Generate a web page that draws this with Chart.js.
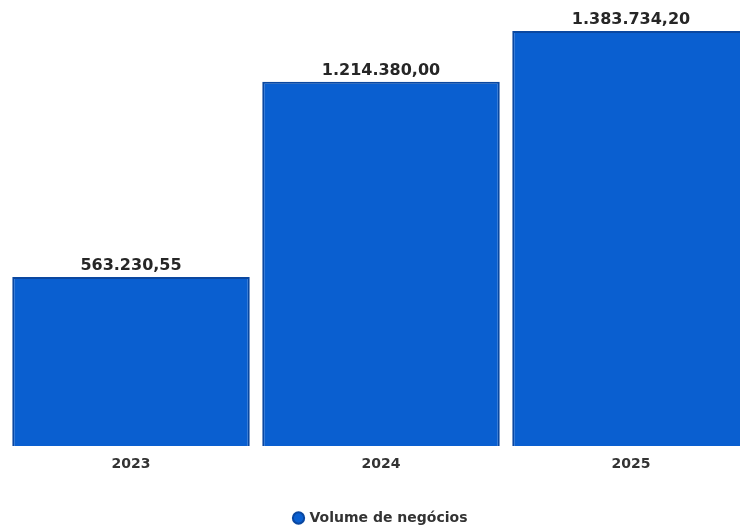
<!DOCTYPE html>
<html>
<head>
<meta charset="utf-8">
<script src="https://cdn.jsdelivr.net/npm/chart.js@4.4.1/dist/chart.umd.min.js"></script>
<style>
  html, body { margin: 0; padding: 0; background: #fff; overflow: hidden; }
  #wrap { width: 740px; height: 530px; overflow: hidden; position: relative; }
  #box { width: 762px; height: 535px; position: absolute; left: 0; top: 0; }
</style>
</head>
<body>
<div id="wrap"><div id="box"><canvas id="chart"></canvas></div></div>
<script>
const years = ['2023', '2024', '2025'];
const volume = [563230.55, 1214380.00, 1383734.20];
const seriesName = 'Volume de negócios';

// formato pt: 1.234.567,89
const fmt = (v) => {
    const [int, dec] = v.toFixed(2).split('.');
    return int.replace(/\B(?=(\d{3})+(?!\d))/g, '.') + ',' + dec;
};

// rótulos por cima das barras
const valueLabels = {
    id: 'valueLabels',
    afterDatasetsDraw(chart) {
        const { ctx } = chart;
        const meta = chart.getDatasetMeta(0);
        ctx.save();
        ctx.font = 'bold 16px "DejaVu Sans"';
        ctx.fillStyle = '#262626';
        ctx.textAlign = 'center';
        ctx.textBaseline = 'bottom';
        meta.data.forEach((bar, i) => {
            ctx.fillText(fmt(chart.data.datasets[0].data[i]), bar.x, bar.y - 3);
        });
        ctx.restore();
    }
};

new Chart(document.getElementById('chart'), {
    type: 'bar',
    data: {
        labels: years,
        datasets: [{
            label: seriesName,
            data: volume,
            backgroundColor: '#0a5fd0',
            borderColor: '#0a47a0',
            borderWidth: 2,
            barPercentage: 0.95,
            categoryPercentage: 1
        }]
    },
    options: {
        responsive: true,
        maintainAspectRatio: false,
        animation: false,
        layout: { padding: { left: 6, right: 6, top: 0, bottom: 0 } },
        plugins: {
            legend: {
                position: 'bottom',
                labels: {
                    usePointStyle: true,
                    pointStyle: 'circle',
                    boxWidth: 8,
                    boxHeight: 8,
                    padding: 5,
                    color: '#333',
                    font: { family: 'DejaVu Sans', size: 14, weight: 'bold' }
                }
            },
            tooltip: { enabled: false }
        },
        scales: {
            x: {
                grid: { display: false },
                border: { display: false },
                afterFit: (scale) => { scale.height = 60; },
                ticks: { color: '#333', padding: 2, font: { family: 'DejaVu Sans', size: 14, weight: 'bold' } }
            },
            y: {
                display: false,
                min: 0,
                max: 1487000
            }
        }
    },
    plugins: [valueLabels]
});
</script>
</body>
</html>
